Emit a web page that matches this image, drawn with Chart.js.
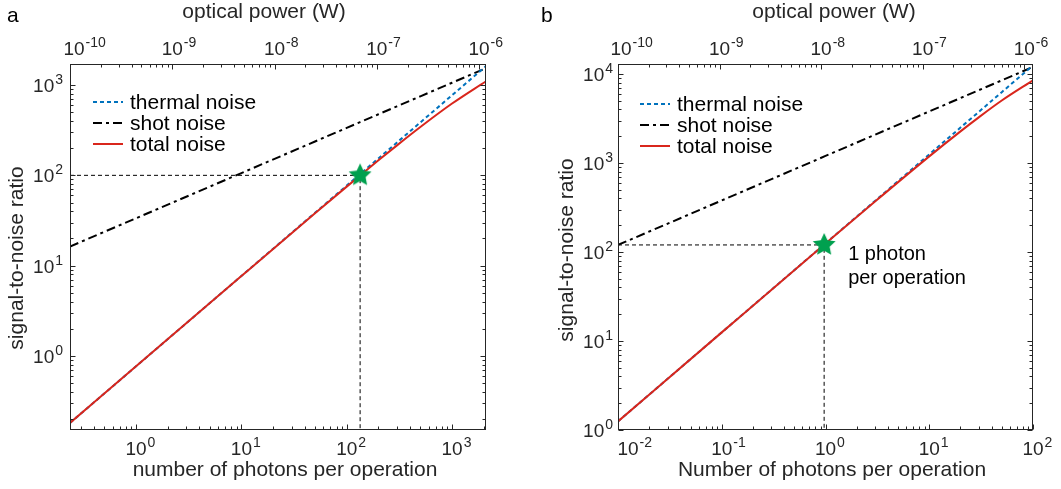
<!DOCTYPE html>
<html><head><meta charset="utf-8">
<script src="https://cdn.jsdelivr.net/npm/chart.js@4/dist/chart.umd.min.js"></script>
<style>
html,body{margin:0;padding:0;background:#fff;}
body{width:1061px;height:489px;overflow:hidden;position:relative;}
canvas{position:absolute;top:0;}
</style></head>
<body>
<canvas id="ca" width="530" height="489" style="left:0"></canvas>
<canvas id="cb" width="531" height="489" style="left:530px"></canvas>
<script>
// ---------- data ----------
const photonsA = [0.236, 1, 10, 50, 100, 134, 200, 300, 500, 1000, 2100];
const thermalA = [0.182, 0.77, 7.7, 38.5, 77, 103.2, 154, 231, 385, 770, 1617];
const shotA    = [16.3, 33.5, 105.9, 236.9, 335, 387.8, 473.8, 580.2, 749.1, 1059, 1535];
const totalA   = [0.182, 0.77, 7.68, 38.0, 75.0, 99.7, 146.5, 214.6, 342.4, 622.7, 1100];
const starA    = {x: 134, y: 100};
const limitsA  = {xmin: 0.236, xmax: 2100, ymin: 0.152, ymax: 1706, pmin: 1e-10, pmax: 1.17e-6};

const photonsB = [0.01, 0.1, 1, 3, 10, 20, 30, 50, 100];
const thermalB = [1.25, 12.5, 125, 375, 1250, 2500, 3750, 6250, 12500];
const shotB    = [120, 379.5, 1200, 2078, 3795, 5367, 6573, 8485, 12000];
const totalB   = [1.25, 12.5, 124.3, 369, 1187, 2266, 3257, 5032, 8500];
const starB    = {x: 0.97, y: 120};
const limitsB  = {xmin: 0.01, xmax: 100, ymin: 1, ymax: 12950, pmin: 1e-10, pmax: 1.22e-6};

const legendLabels = ['thermal noise', 'shot noise', 'total noise'];
const topTitle = 'optical power (W)';
const yTitle = 'signal-to-noise ratio';
const xTitleA = 'number of photons per operation';
const xTitleB = 'Number of photons per operation';
const noteB = ['1 photon', 'per operation'];

// ---------- styles ----------
const FONT = "'Liberation Sans', Arial, Helvetica, sans-serif";
const AX = '#262626';
const C_TH = '#0072bd', C_SH = '#000000', C_TO = '#d9261c', C_STAR = '#00a04f';
const D_TH = [4, 3], D_SH = [9, 4, 3, 4], D_REF = [4, 3];

function makeStar(r, color) {
  const c = document.createElement('canvas');
  c.width = c.height = 2 * r + 2;
  const g = c.getContext('2d');
  g.translate(r + 1, r + 1);
  g.beginPath();
  for (let i = 0; i < 10; i++) {
    const rad = i % 2 ? r * 0.48 : r;
    const a = -Math.PI / 2 + i * Math.PI / 5;
    g.lineTo(rad * Math.cos(a), rad * Math.sin(a));
  }
  g.closePath();
  g.fillStyle = color; g.fill();
  return c;
}
const starImg = makeStar(12, C_STAR);

function pts(xs, ys) { return xs.map((x, i) => ({x: x, y: ys[i]})); }

function logVals(min, max) {
  const out = [];
  for (let k = Math.floor(Math.log10(min)) - 1; k <= Math.ceil(Math.log10(max)); k++) {
    for (let m = 1; m <= 9; m++) {
      const v = m * Math.pow(10, k);
      if (v >= min * 0.9999 && v <= max * 1.0001) out.push({v: v, major: m === 1, e: k});
    }
  }
  return out;
}

function drawPow(ctx, e, x, baseY, mode) {
  const bf = '19px ' + FONT, ef = '14px ' + FONT;
  const b = '10', s = String(e);
  ctx.font = bf; const wb = ctx.measureText(b).width;
  ctx.font = ef; const ws = ctx.measureText(s).width;
  let x0 = mode === 'right' ? x - wb - ws - 1 : x - wb / 2;
  ctx.textAlign = 'left'; ctx.textBaseline = 'alphabetic';
  ctx.font = bf; ctx.fillText(b, x0, baseY);
  ctx.font = ef; ctx.fillText(s, x0 + wb + 1, baseY - 8);
}

function framePlugin(p) {
  return {
    id: 'frame',
    afterDraw(chart) {
      const ctx = chart.ctx, a = chart.chartArea;
      const sx = chart.scales.x, st = chart.scales.x2, sy = chart.scales.y;
      ctx.save();
      ctx.strokeStyle = AX; ctx.lineWidth = 1; ctx.setLineDash([]);
      const L = Math.round(a.left) + 0.5, R = Math.round(a.right) - 0.5;
      const T = Math.round(a.top) + 0.5, B = Math.round(a.bottom) - 0.5;
      ctx.strokeRect(L, T, R - L, B - T);
      ctx.beginPath();
      logVals(sx.min, sx.max).forEach(t => {
        const px = Math.round(sx.getPixelForValue(t.v)) + 0.5, len = t.major ? 5 : 3;
        ctx.moveTo(px, B); ctx.lineTo(px, B - len);
      });
      logVals(st.min, st.max).forEach(t => {
        const px = Math.round(st.getPixelForValue(t.v)) + 0.5, len = t.major ? 5 : 3;
        ctx.moveTo(px, T); ctx.lineTo(px, T + len);
      });
      logVals(sy.min, sy.max).forEach(t => {
        const py = Math.round(sy.getPixelForValue(t.v)) + 0.5, len = t.major ? 5 : 3;
        ctx.moveTo(L, py); ctx.lineTo(L + len, py);
        ctx.moveTo(R, py); ctx.lineTo(R - len, py);
      });
      ctx.stroke();

      // tick labels
      ctx.fillStyle = AX;
      logVals(sx.min, sx.max).filter(t => t.major).forEach(t => {
        let px = sx.getPixelForValue(t.v);
        if (px < a.left + 8) px += p.firstBottomShift || 0;
        drawPow(ctx, t.e, px, a.bottom + 25, 'center');
      });
      logVals(st.min, st.max).filter(t => t.major).forEach(t => {
        let px = st.getPixelForValue(t.v);
        if (px < a.left + 8) px += p.firstTopShift || 0;
        drawPow(ctx, t.e, px, a.top - 9, 'center');
      });
      logVals(sy.min, sy.max).filter(t => t.major).forEach(t => {
        const py = sy.getPixelForValue(t.v);
        drawPow(ctx, t.e, a.left - p.yLabelGap, py + 7, 'right');
      });

      // titles
      ctx.font = '21px ' + FONT; ctx.fillStyle = AX;
      ctx.textAlign = 'center'; ctx.textBaseline = 'alphabetic';
      ctx.fillText(p.xTitle, p.xTitleX, 476);
      ctx.fillText(topTitle, p.topTitleX, 18);
      ctx.save();
      ctx.translate(p.yTitleX, p.yTitleY); ctx.rotate(-Math.PI / 2);
      ctx.fillText(yTitle, 0, 0);
      ctx.restore();
      ctx.textAlign = 'left'; ctx.fillStyle = '#000';
      ctx.fillText(p.letter, p.letterX, 22);

      // legend
      const styles = [[C_TH, D_TH], [C_SH, D_SH], [C_TO, []]];
      styles.forEach((s, i) => {
        const y = a.top + p.legTop + i * 21;
        ctx.strokeStyle = s[0]; ctx.lineWidth = 2; ctx.setLineDash(s[1]);
        ctx.beginPath(); ctx.moveTo(a.left + p.legX0, y); ctx.lineTo(a.left + p.legX1, y); ctx.stroke();
        ctx.setLineDash([]);
        ctx.fillStyle = '#000'; ctx.font = '21px ' + FONT; ctx.textBaseline = 'middle';
        ctx.fillText(legendLabels[i], a.left + p.legText, y + 1);
      });

      // annotation near the star
      if (p.note) {
        const px = sx.getPixelForValue(p.star.x), py = sy.getPixelForValue(p.star.y);
        ctx.fillStyle = '#000'; ctx.font = '20px ' + FONT; ctx.textBaseline = 'middle'; ctx.textAlign = 'left';
        ctx.fillText(p.note[0], px + 24, py + 10);
        ctx.fillText(p.note[1], px + 24, py + 34);
      }
      ctx.restore();
    }
  };
}

function buildChart(id, xs, th, sh, to, star, lim, p, pad) {
  const refLine = [{x: lim.xmin, y: star.y}, {x: star.x, y: star.y}, {x: star.x, y: lim.ymin}];
  return new Chart(document.getElementById(id), {
    type: 'line',
    data: {
      datasets: [
        {label: 'star', data: [star], showLine: false, pointStyle: starImg, pointRadius: 12, order: 0},
        {label: legendLabels[2], data: pts(xs, to), borderColor: C_TO, borderWidth: 2, pointRadius: 0, cubicInterpolationMode: 'monotone', order: 1, clip: 0},
        {label: legendLabels[0], data: pts(xs, th), borderColor: C_TH, borderDash: D_TH, borderWidth: 2, pointRadius: 0, order: 2, clip: 0},
        {label: legendLabels[1], data: pts(xs, sh), borderColor: C_SH, borderDash: D_SH, borderWidth: 2, pointRadius: 0, order: 3, clip: 0},
        {label: 'ref', data: refLine, borderColor: '#000', borderDash: D_REF, borderWidth: 1, pointRadius: 0, order: 4, clip: 0}
      ]
    },
    options: {
      responsive: false, animation: false, devicePixelRatio: 1,
      layout: {padding: {left: 0, right: pad.right, top: 0, bottom: 0}},
      plugins: {legend: {display: false}, tooltip: {enabled: false}},
      scales: {
        x: {type: 'logarithmic', position: 'bottom', min: lim.xmin, max: lim.xmax,
            grid: {display: false}, border: {display: false}, ticks: {display: false},
            afterFit(s) { s.height = 59; }},
        x2: {type: 'logarithmic', position: 'top', min: lim.pmin, max: lim.pmax,
            grid: {display: false}, border: {display: false}, ticks: {display: false},
            afterFit(s) { s.height = 64; }},
        y: {type: 'logarithmic', position: 'left', min: lim.ymin, max: lim.ymax,
            grid: {display: false}, border: {display: false}, ticks: {display: false},
            afterFit(s) { s.width = pad.left; }}
      }
    },
    plugins: [framePlugin(p)]
  });
}

buildChart('ca', photonsA, thermalA, shotA, totalA, starA, limitsA,
  {xTitle: xTitleA, xTitleX: 285, topTitleX: 264, yTitleX: 23, yTitleY: 258, yLabelGap: 7,
   letter: 'a', letterX: 7, legTop: 38, legX0: 23, legX1: 53, legText: 60,
   firstTopShift: 4, firstBottomShift: 0, star: starA, note: null},
  {left: 70, right: 44});

buildChart('cb', photonsB, thermalB, shotB, totalB, starB, limitsB,
  {xTitle: xTitleB, xTitleX: 302, topTitleX: 304, yTitleX: 43, yTitleY: 250, yLabelGap: 5,
   letter: 'b', letterX: 11, legTop: 40, legX0: 22, legX1: 52, legText: 59,
   firstTopShift: 3, firstBottomShift: 10, star: starB, note: noteB},
  {left: 88, right: 28});
</script>
</body></html>
